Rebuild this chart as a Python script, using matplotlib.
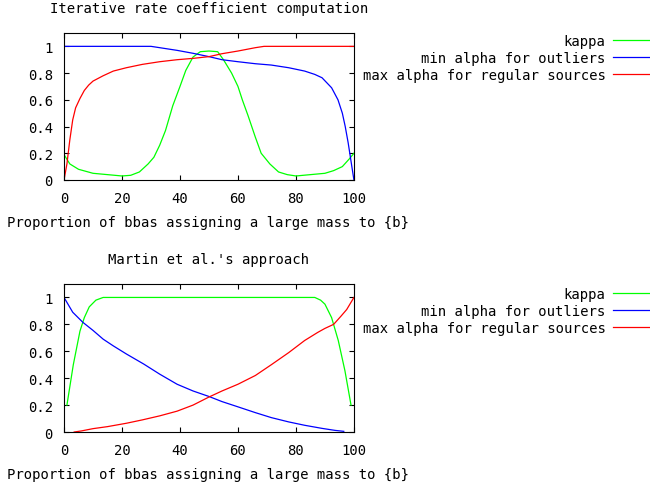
import numpy as np
import matplotlib
matplotlib.use("Agg")
import matplotlib.pyplot as plt
from matplotlib.ticker import FuncFormatter

plt.rcParams['font.family'] = ['DejaVu Sans Mono']
plt.rcParams['font.size'] = 10

# ---- top panel: iterative rate coefficient computation
kappa1_x = [0, 2, 5, 10, 15, 20, 23, 26, 29, 31, 33, 35, 37.5, 40, 42, 44.5, 47, 50,
            53, 55, 57.8, 60, 61.5, 63.5, 66, 68, 71, 74, 77, 80, 85, 90, 93, 96, 98.5, 100]
kappa1_y = [0.19, 0.12, 0.08, 0.05, 0.04, 0.03, 0.035, 0.06, 0.12, 0.17, 0.26, 0.37, 0.555,
            0.70, 0.82, 0.92, 0.96, 0.965, 0.96, 0.90, 0.80, 0.70, 0.60, 0.48, 0.32, 0.20,
            0.12, 0.06, 0.04, 0.03, 0.04, 0.05, 0.07, 0.10, 0.16, 0.20]

minout1_x = [0, 30, 33, 39, 44.5, 50, 54.5, 60, 66, 71.5, 77.5, 83, 86.5, 89, 92.3, 94.5,
             96, 97, 98, 99, 100]
minout1_y = [1.0, 1.0, 0.99, 0.97, 0.948, 0.923, 0.90, 0.885, 0.87, 0.86, 0.84, 0.815,
             0.79, 0.765, 0.69, 0.60, 0.50, 0.40, 0.28, 0.14, 0.0]

maxreg1_x = [0, 1, 2, 3, 4, 5.5, 7, 8.5, 10, 13.5, 17, 21.5, 27, 33, 39, 44.5, 50, 54.5,
             60, 66, 69, 100]
maxreg1_y = [0.0, 0.12, 0.30, 0.45, 0.54, 0.61, 0.67, 0.71, 0.74, 0.78, 0.815, 0.84, 0.865,
             0.885, 0.90, 0.91, 0.923, 0.945, 0.965, 0.99, 1.0, 1.0]

# ---- bottom panel: Martin et al.'s approach
kappa2_x = [1, 3.2, 5.5, 7, 8.7, 11, 13.5, 86.5, 88.5, 90, 92.3, 94.6, 96.9, 99]
kappa2_y = [0.2, 0.5, 0.75, 0.85, 0.93, 0.98, 1.0, 1.0, 0.98, 0.95, 0.85, 0.68, 0.455, 0.2]

minout2_x = [0, 3, 6.5, 10, 13.5, 17, 21.5, 27.5, 33, 39, 44.5, 50, 54.5, 60, 66, 71.5,
             77.5, 83, 89, 93.5, 96.5]
minout2_y = [1.0, 0.89, 0.815, 0.755, 0.69, 0.64, 0.58, 0.505, 0.43, 0.355, 0.305, 0.264,
             0.226, 0.187, 0.144, 0.107, 0.075, 0.05, 0.027, 0.012, 0.005]

maxreg2_x = [3.5, 6, 10, 15, 21.5, 27, 33, 39, 44.5, 50, 54.5, 60, 66, 71.5, 77.5, 83,
             87.5, 90, 93, 95.5, 97.5, 100]
maxreg2_y = [0.0, 0.008, 0.025, 0.04, 0.065, 0.09, 0.12, 0.155, 0.2, 0.26, 0.305, 0.355,
             0.42, 0.5, 0.59, 0.68, 0.74, 0.77, 0.80, 0.86, 0.91, 1.0]

labels = ['kappa', 'min alpha for outliers', 'max alpha for regular sources']
colors = ['#00ff00', '#0000ff', '#ff0000']
titles = ['Iterative rate coefficient computation', "Martin et al.'s approach"]
xlabel = 'Proportion of bbas assigning a large mass to {b}'
xticks = [0, 20, 40, 60, 80, 100]
yticks = [0, 0.2, 0.4, 0.6, 0.8, 1]

panels = [
    [(kappa1_x, kappa1_y), (minout1_x, minout1_y), (maxreg1_x, maxreg1_y)],
    [(kappa2_x, kappa2_y), (minout2_x, minout2_y), (maxreg2_x, maxreg2_y)],
]

fig = plt.figure(figsize=(6.5, 4.89), dpi=100)
rects = [[0.0985, 0.6299, 0.446, 0.3006], [0.0985, 0.1145, 0.446, 0.3027]]
leg_top = [0.929, 0.411]

for i in range(2):
    ax = fig.add_axes(rects[i])
    for (xs, ys), lab, c in zip(panels[i], labels, colors):
        ax.plot(xs, ys, color=c, lw=0.9, label=lab)
    ax.set_xlim(0, 100)
    ax.set_ylim(0, 1.1)
    ax.set_xticks(xticks)
    ax.set_yticks(yticks)
    ax.yaxis.set_major_formatter(FuncFormatter(lambda v, p: '%g' % v))
    ax.tick_params(direction='in', length=3.5, width=0.8, top=True, right=True, pad=8)
    for s in ax.spines.values():
        s.set_linewidth(0.8)
    ax.set_title(titles[i], pad=15, fontsize=10)
    ax.set_xlabel(xlabel)
    ax.xaxis.set_label_coords(0.495, -0.235)
    fig.legend(loc='upper right', bbox_to_anchor=(1.0, leg_top[i]),
               handles=ax.get_lines(), frameon=False, markerfirst=False,
               borderpad=0, borderaxespad=0, handlelength=2.7, handletextpad=0.5,
               labelspacing=0.22)

fig.savefig('out.png', dpi=100)
